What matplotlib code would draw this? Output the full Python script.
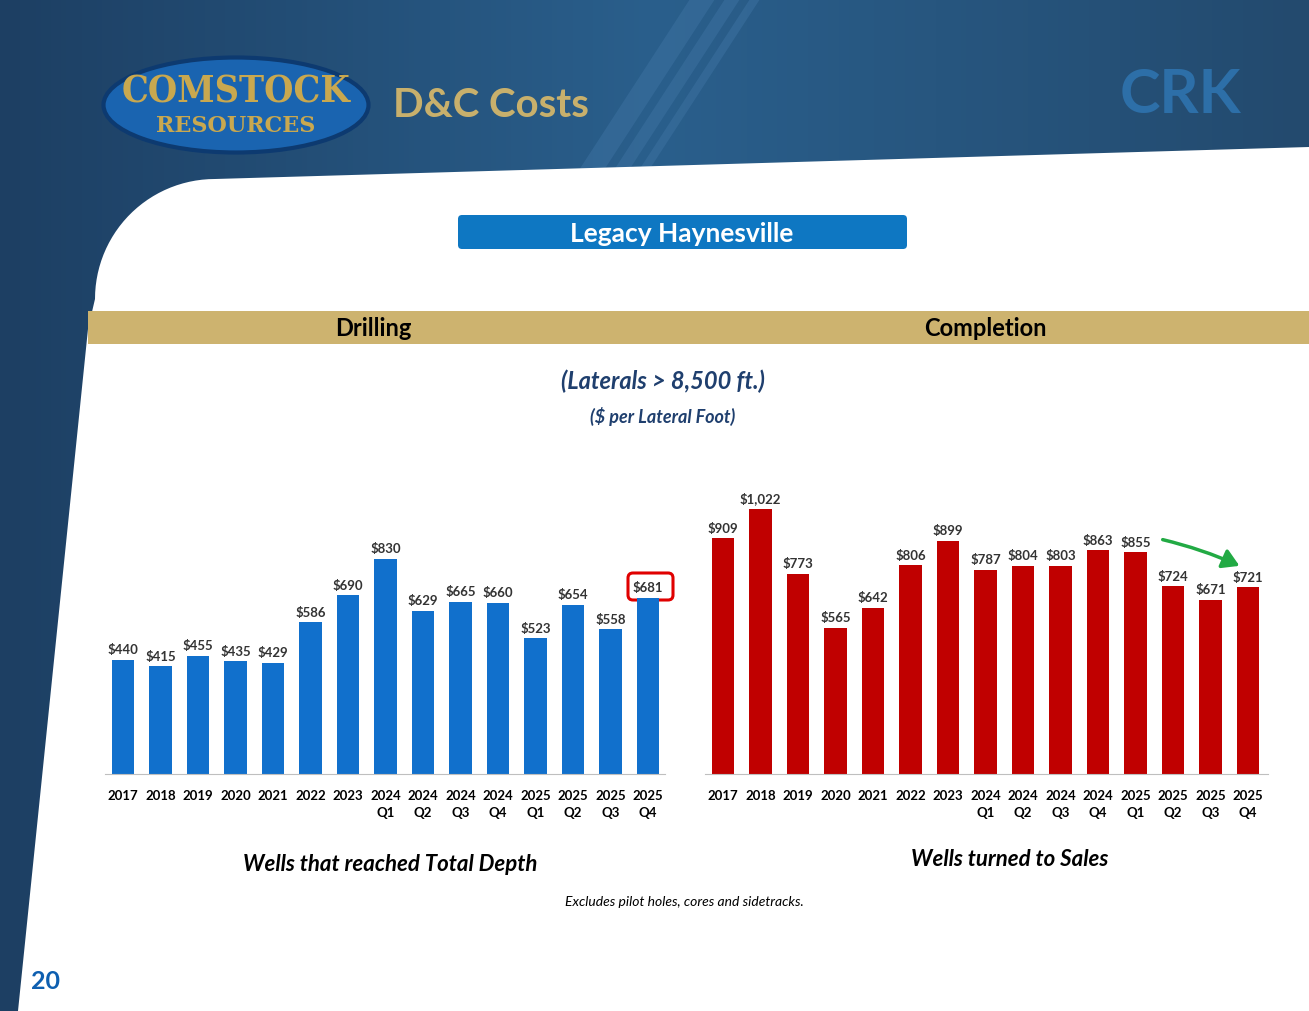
import matplotlib
matplotlib.use("Agg")
import matplotlib.pyplot as plt
import numpy as np
from matplotlib.patches import Polygon, FancyBboxPatch, Ellipse, Rectangle, FancyArrowPatch

plt.rcParams['font.family'] = ['Lato', 'DejaVu Sans']

labels = ["2017", "2018", "2019", "2020", "2021", "2022", "2023", "2024\nQ1", "2024\nQ2",
          "2024\nQ3", "2024\nQ4", "2025\nQ1", "2025\nQ2", "2025\nQ3", "2025\nQ4"]
drilling = [440, 415, 455, 435, 429, 586, 690, 830, 629, 665, 660, 523, 654, 558, 681]
completion = [909, 1022, 773, 565, 642, 806, 899, 787, 804, 803, 863, 855, 724, 671, 721]

W, H = 1309, 1012
fig = plt.figure(figsize=(W/100, H/100), dpi=100)
bg = fig.add_axes([0, 0, 1, 1], zorder=0)
bg.set_xlim(0, W); bg.set_ylim(H, 0); bg.axis('off')

grad = np.linspace(0, 1, 256)[None, :]
bg.imshow(grad, extent=[0, W, H, 0], aspect='auto',
          cmap=matplotlib.colors.LinearSegmentedColormap.from_list('g', ['#1d3f63', '#2a5f8c', '#234a6e']))
for x0, w in [(690, 25), (725, 15), (750, 10)]:
    bg.add_patch(Polygon([[x0, 0], [x0+w, 0], [x0+w-120, 185], [x0-120, 185]], color='#3a6f9e', alpha=0.6, lw=0))
t = np.linspace(0, np.pi/2, 30)
cx, cy, r = 215, 300, 120
arc = np.column_stack([cx - r*np.cos(t), cy - r*np.sin(t)])
pts = [[W, 148], [W, H], [18, H], [88, 330]] + arc.tolist() + [[cx, 180]]
bg.add_patch(Polygon(pts, closed=True, color='white', lw=0))

bg.add_patch(Ellipse((236, 106), 265, 95, color='#1a64b0', ec='#0d3a70', lw=3))
bg.text(236, 92, "COMSTOCK", ha='center', va='center', fontsize=27, fontweight='bold',
        color='#c9a84f', family='DejaVu Serif', fontstretch='condensed')
bg.text(236, 126, "RESOURCES", ha='center', va='center', fontsize=16, fontweight='bold',
        color='#c9a84f', family='DejaVu Serif')
bg.text(393, 105, "D&C Costs", ha='left', va='center', fontsize=29, fontweight='bold', color='#c8b06c')
bg.text(1180, 95, "CRK", ha='center', va='center', fontsize=44, fontweight='bold', color='#2d6fa8')

bg.add_patch(FancyBboxPatch((458, 216), 449, 34, boxstyle='round,pad=0,rounding_size=4', color='#0e77c2', lw=0))
bg.text(682, 234, "Legacy Haynesville", ha='center', va='center', fontsize=19, fontweight='bold', color='white')
bg.add_patch(Rectangle((88, 312), W-88, 33, color='#cdb36f', lw=0))
bg.text(373, 328, "Drilling", ha='center', va='center', fontsize=17, fontweight='bold', color='black')
bg.text(985, 328, "Completion", ha='center', va='center', fontsize=17, fontweight='bold', color='black')
bg.text(663, 381, "(Laterals > 8,500 ft.)", ha='center', va='center', fontsize=17, fontweight='bold', style='italic', color='#1f3f6e')
bg.text(663, 417, "($ per Lateral Foot)", ha='center', va='center', fontsize=13, fontweight='bold', style='italic', color='#1f3f6e')
bg.text(390, 865, "Wells that reached Total Depth", ha='center', va='center', fontsize=16, fontweight='bold', style='italic', color='black')
bg.text(1010, 860, "Wells turned to Sales", ha='center', va='center', fontsize=16, fontweight='bold', style='italic', color='black')
bg.text(684, 902, "Excludes pilot holes, cores and sidetracks.", ha='center', va='center', fontsize=10, style='italic', color='black')
bg.text(46, 982, "20", ha='center', va='center', fontsize=18, fontweight='bold', color='#0e5fb0')

def fig_rect(x0, x1, ytop, ybot):
    return [x0/W, 1-ybot/H, (x1-x0)/W, (ybot-ytop)/H]

def panel(x0, x1, vals, color, xmax):
    ax = fig.add_axes(fig_rect(x0, x1, 490, 775), zorder=2)
    ax.patch.set_alpha(0)
    x = np.arange(len(vals))
    ax.bar(x, vals, width=0.6, color=color)
    ax.set_xlim(-0.48, xmax)
    ax.set_ylim(0, 1100)
    for s in ['top', 'right', 'left']:
        ax.spines[s].set_visible(False)
    ax.spines['bottom'].set_color('#bfbfbf')
    ax.set_yticks([])
    ax.set_xticks(x)
    ax.set_xticklabels(labels, fontsize=9.5, fontweight='bold', linespacing=1.5)
    ax.tick_params(axis='x', length=0, pad=11)
    for xi, v in zip(x, vals):
        ax.text(xi, v + 18, f"${v:,}", ha='center', va='bottom', fontsize=9.5, fontweight='bold', color='#333333')
    return ax

axd = panel(105, 665, drilling, '#1170cc', 14.45)
axc = panel(705, 1268, completion, '#c00000', 14.53)

bg.add_patch(FancyBboxPatch((628, 574), 45, 27, boxstyle='round,pad=0,rounding_size=5', fill=False, ec='#e00000', lw=2.2, zorder=5))
bg.add_patch(FancyArrowPatch((1160, 540), (1242, 568), arrowstyle='-|>,head_length=10,head_width=6',
                             color='#22aa44', lw=2.5, connectionstyle='arc3,rad=-0.05', zorder=5))

fig.savefig("out.png", dpi=100)
